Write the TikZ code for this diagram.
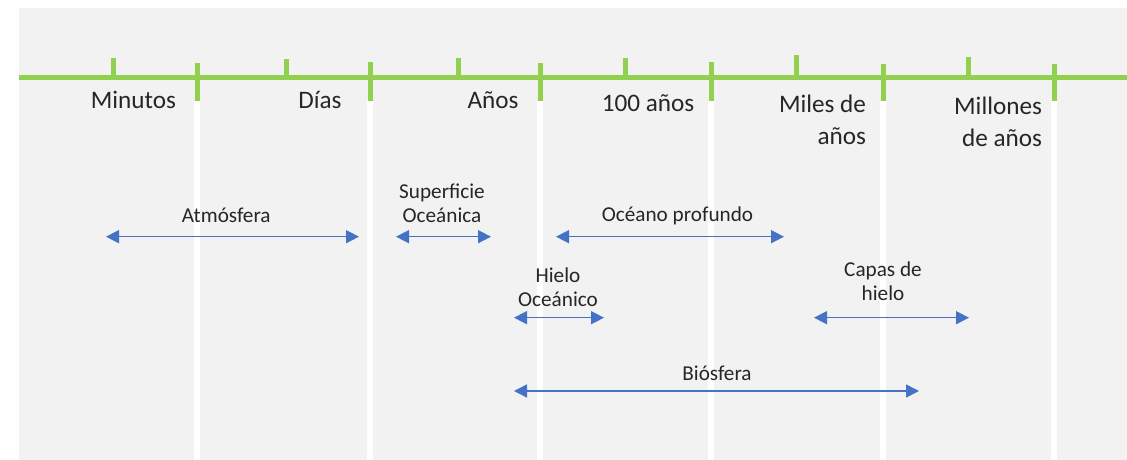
\documentclass[tikz,border=0pt]{standalone}
\usepackage{fontspec}
\setmainfont{Carlito}
\usetikzlibrary{arrows.meta}

\begin{document}
\begin{tikzpicture}[x=1pt,y=1pt,
  axis/.style={draw=axisColor,line width=5pt},
  gap/.style={draw=white,line width=5.5pt},
  scale label/.style={text=textColor,inner sep=0pt,outer sep=0pt,align=right,font=\fontsize{25.2}{32}\selectfont},
  part label/.style={text=textColor,inner sep=0pt,outer sep=0pt,align=center,font=\fontsize{21.2}{24.5}\selectfont},
  span/.style={draw=spanColor,line width=1.5pt,{Triangle[length=13pt,width=13pt]}-{Triangle[length=13pt,width=13pt]}}]
\definecolor{fillColor}{RGB}{242,242,242}
\definecolor{axisColor}{RGB}{146,208,80}
\definecolor{spanColor}{RGB}{68,114,196}
\definecolor{textColor}{RGB}{38,38,38}
\path[use as bounding box,fill=white] (0,0) rectangle (1127,460);
\path[fill=fillColor] (19,0) rectangle (1127,452);

% white column gaps
\begin{scope}
\path[gap] ( 197,0) -- ( 197,359);
\path[gap] ( 370,0) -- ( 370,359);
\path[gap] ( 540,0) -- ( 540,359);
\path[gap] ( 711,0) -- ( 711,359);
\path[gap] ( 883,0) -- ( 883,359);
\path[gap] (1054,0) -- (1054,359);
\end{scope}

% time axis
\begin{scope}
\path[axis] (19,382) -- (1127,382);

\path[axis] ( 113,382) -- ( 113,402);
\path[axis] ( 286,382) -- ( 286,401);
\path[axis] ( 458,382) -- ( 458,402);
\path[axis] ( 625,382) -- ( 625,402);
\path[axis] ( 796,382) -- ( 796,405);
\path[axis] ( 968,382) -- ( 968,403);

\path[axis] ( 197,359) -- ( 197,397);
\path[axis] ( 370,359) -- ( 370,398);
\path[axis] ( 540,359) -- ( 540,397);
\path[axis] ( 711,359) -- ( 711,398);
\path[axis] ( 883,359) -- ( 883,396);
\path[axis] (1054,359) -- (1054,396);

% base of a two-line label is its last line
\node[scale label,anchor=base] (minutos) at (133.5,351.0) {Minutos};
\node[scale label,anchor=base] (dias) at (320.0,351.0) {Días};
\node[scale label,anchor=base] (anos) at (493.0,351.0) {Años};
\node[scale label,anchor=base] (cien) at (648.0,348.3) {100 años};
\node[scale label,anchor=base east] (miles) at (866.0,315.0) {Miles de\\años};
\node[scale label,anchor=base east] (millones) at (1042.0,313.3) {Millones\\de años};
\end{scope}

% components
\begin{scope}
\node[part label,anchor=base] (atmosfera) at (226.3,237.0) {Atmósfera};
\coordinate (atmosfera-l) at (106,223.3);
\coordinate (atmosfera-r) at (359,223.3);
\draw[span] (atmosfera-l) -- (atmosfera-r);

\node[part label,anchor=base] (superficie) at (442.0,237.3) {Superficie\\Oceánica};
\coordinate (superficie-l) at (396,223.3);
\coordinate (superficie-r) at (491,223.3);
\draw[span] (superficie-l) -- (superficie-r);

\node[part label,anchor=base] (profundo) at (677.5,238.0) {Océano profundo};
\coordinate (profundo-l) at (556,223.3);
\coordinate (profundo-r) at (784,223.3);
\draw[span] (profundo-l) -- (profundo-r);

\node[part label,anchor=base] (hielo) at (558.0,153.3) {Hielo\\Oceánico};
\coordinate (hielo-l) at (514,142.3);
\coordinate (hielo-r) at (604,142.3);
\draw[span] (hielo-l) -- (hielo-r);

\node[part label,anchor=base] (capas) at (883.0,159.0) {Capas de\\hielo};
\coordinate (capas-l) at (814,142.3);
\coordinate (capas-r) at (969,142.3);
\draw[span] (capas-l) -- (capas-r);

\node[part label,anchor=base] (biosfera) at (717.0,79.0) {Biósfera};
\coordinate (biosfera-l) at (514,69.0);
\coordinate (biosfera-r) at (919,69.0);
\draw[span] (biosfera-l) -- (biosfera-r);
\end{scope}
\end{tikzpicture}
\end{document}
